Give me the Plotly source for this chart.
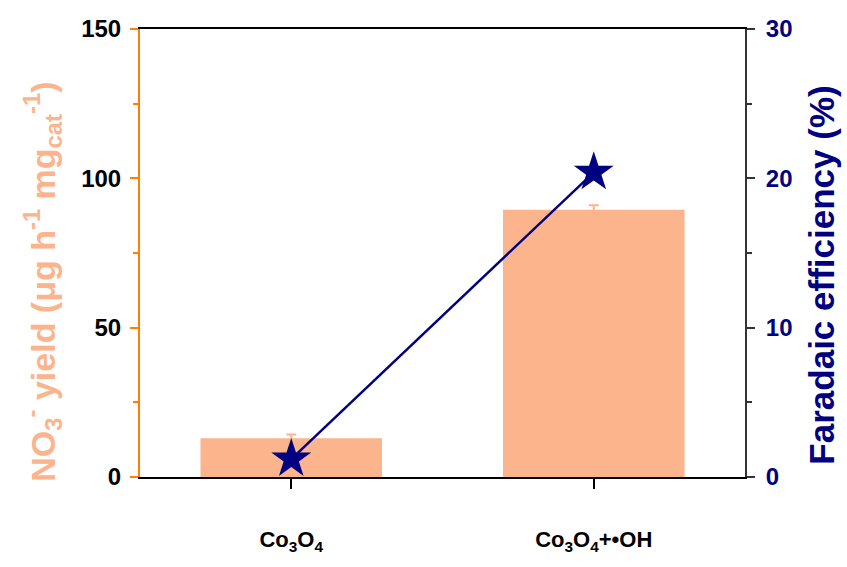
import plotly.graph_objects as go

categories = ["Co<sub>3</sub>O<sub>4</sub>", "Co<sub>3</sub>O<sub>4</sub>+•OH"]
yield_vals = [13.0, 89.5]
yield_err = [1.2, 1.5]
fe_vals = [1.2, 20.4]

FONT = "Liberation Sans, Arial, sans-serif"
BAR_C = "#FBB48C"
NAVY = "#000080"

x_idx = list(range(len(categories)))

fig = go.Figure()
fig.add_trace(go.Bar(
    x=x_idx, y=yield_vals, width=0.6, marker=dict(color=BAR_C, line=dict(width=0)),
    error_y=dict(type="data", array=yield_err, visible=True, color=BAR_C, thickness=2, width=5),
    yaxis="y", showlegend=False))
fig.add_trace(go.Scatter(
    x=x_idx, y=fe_vals, mode="lines+markers", yaxis="y2",
    line=dict(color=NAVY, width=2.5),
    marker=dict(symbol="star", size=30, color=NAVY, line=dict(width=0)),
    showlegend=False))

fig.update_layout(
    width=847, height=567,
    margin=dict(l=140, r=102, t=29, b=90),
    plot_bgcolor="white", paper_bgcolor="white",
    font=dict(family=FONT, size=18, color="black"),
    xaxis=dict(
        range=[-0.5, 1.5], tickvals=x_idx, ticktext=["<b>%s</b>" % c for c in categories],
        showline=True, linecolor="black", linewidth=2, mirror=True,
        ticks="outside", ticklen=10, tickwidth=2, tickcolor="black",
        ticklabelstandoff=32, showgrid=False, zeroline=False,
        tickfont=dict(size=22, color="black", family=FONT)),
    yaxis=dict(
        range=[0, 150], tickvals=[0, 50, 100, 150],
        showline=True, linecolor="#FF8000", linewidth=2,
        ticks="outside", ticklen=8, tickwidth=2, tickcolor="#FF8000",
        minor=dict(tickvals=[25, 75, 125], ticks="outside", ticklen=5, tickwidth=2, tickcolor="#FF8000"),
        showgrid=False, zeroline=False, ticklabelstandoff=4,
        tickfont=dict(size=24, color="black", family=FONT),
        ticktext=["<b>0</b>", "<b>50</b>", "<b>100</b>", "<b>150</b>"]),
    yaxis2=dict(
        range=[0, 30], tickvals=[0, 10, 20, 30], overlaying="y", side="right",
        showline=True, linecolor="#333333", linewidth=2,
        ticks="outside", ticklen=8, tickwidth=2, tickcolor="#333333",
        minor=dict(tickvals=[5, 15, 25], ticks="outside", ticklen=5, tickwidth=2, tickcolor="#333333"),
        showgrid=False, zeroline=False, ticklabelstandoff=6,
        ticktext=["<b>0</b>", "<b>10</b>", "<b>20</b>", "<b>30</b>"],
        tickfont=dict(size=24, color=NAVY, family=FONT)),
    annotations=[
        dict(text="<b>NO<sub>3</sub><sup>-</sup> yield (μg h<sup>-1</sup> mg<sub>cat</sub><sup>-1</sup>)</b>",
             xref="paper", yref="paper", x=-0.161, y=0.435, xanchor="center", yanchor="middle",
             textangle=-90, showarrow=False, font=dict(size=34, color=BAR_C, family=FONT)),
        dict(text="<b>Faradaic efficiency (%)</b>",
             xref="paper", yref="paper", x=1.126, y=0.45, xanchor="center", yanchor="middle",
             textangle=-90, showarrow=False, font=dict(size=35, color=NAVY, family=FONT)),
    ],
)

fig.write_html("out.html")
